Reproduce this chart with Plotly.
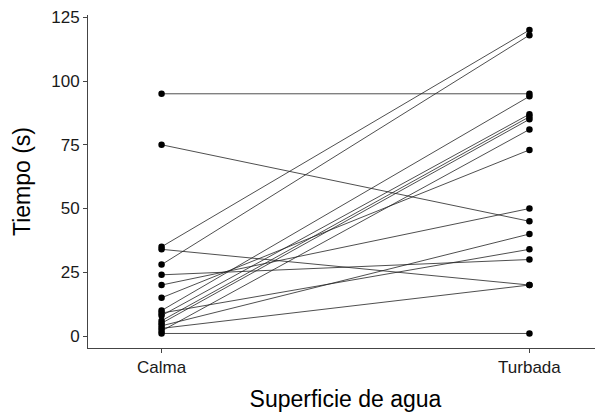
import plotly.graph_objects as go

categories = ["Calma", "Turbada"]
calma =   [95, 75, 35, 34, 28, 24, 20, 15, 10,  9,  8,  6,  5,  4,  3,  2, 1]
turbada = [95, 45, 120, 20, 118, 30, 50, 73, 94, 34, 87, 86, 85, 40, 20, 81, 1]
y_ticks = [0, 25, 50, 75, 100, 125]

fig = go.Figure()
for a, b in zip(calma, turbada):
    fig.add_trace(go.Scatter(
        x=categories, y=[a, b], mode="lines+markers",
        line=dict(color="#222222", width=0.8),
        marker=dict(color="black", size=6.5),
        showlegend=False, hoverinfo="skip"))

fig.update_layout(
    width=595, height=404,
    margin=dict(l=80, r=0, t=7, b=64),
    plot_bgcolor="white", paper_bgcolor="white",
    font=dict(family="Liberation Sans, Arial, sans-serif", color="black"),
)
fig.update_xaxes(
    type="category", range=[-0.2, 1.2], automargin=False,
    showline=True, linecolor="#444444", linewidth=1,
    ticks="outside", ticklen=4, tickcolor="#444444",
    showgrid=False, zeroline=False,
    tickfont=dict(size=17, color="#1a1a1a"),
    title=dict(text="Superficie de agua", font=dict(size=23), standoff=17),
)
fig.update_yaxes(
    range=[-4.7, 125.9], tickvals=y_ticks, automargin=False,
    showline=True, linecolor="#444444", linewidth=1,
    ticks="outside", ticklen=4, tickcolor="#444444",
    showgrid=False, zeroline=False,
    tickfont=dict(size=17, color="#1a1a1a"),
    title=dict(text="Tiempo (s)", font=dict(size=23), standoff=14),
)
fig.write_html("out.html")
